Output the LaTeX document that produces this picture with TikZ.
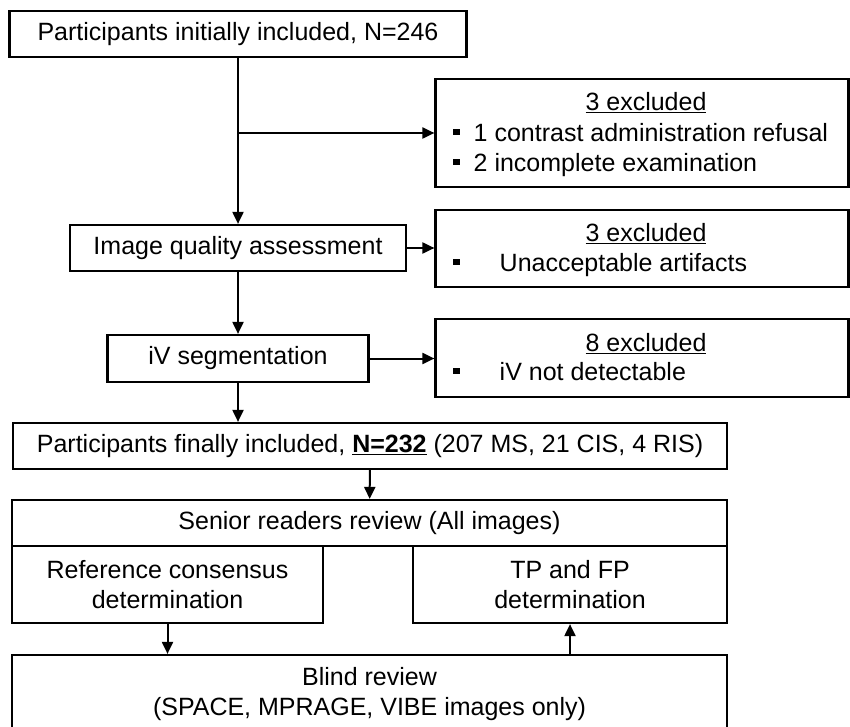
\documentclass[tikz,border=0pt]{standalone}
\usepackage{fontspec}
\setmainfont{Liberation Sans}
\usetikzlibrary{arrows.meta}

\newcommand{\sqbullet}{\raisebox{6.5pt}{\rule{6.5pt}{6.5pt}}}

\tikzset{
  flowbox/.style={draw, line width=2.2pt, align=center, inner sep=0pt},
  flowarrow/.style={line width=2pt, -{Triangle[length=12pt,width=11pt]}},
  headtext/.style={anchor=base, inner sep=0pt},
  itemtext/.style={anchor=base west, inner sep=0pt},
}

\begin{document}
\begin{tikzpicture}[x=1pt, y=-1pt, font=\fontsize{25}{30}\selectfont]
        \useasboundingbox (0,0) rectangle (850,727);

        % Main column boxes
        \node[flowbox, minimum width=457pt, minimum height=46pt] (init) at (238,34) {Participants initially included, N=246};
        \node[flowbox, minimum width=336pt, minimum height=46pt] (iqa) at (238,248) {Image quality assessment};
        \node[flowbox, minimum width=261pt, minimum height=47pt] (seg) at (238,358.5) {iV segmentation};
        \node[flowbox, minimum width=714pt, minimum height=46pt] (final) at (370,446)
            {Participants finally included, \underline{\textbf{N=232}} (207 MS, 21 CIS, 4 RIS)};

        % Exclusion boxes
        \node[flowbox, minimum width=413pt, minimum height=108pt] (excl1) at (642,133) {};
        \node[flowbox, minimum width=413pt, minimum height=77pt] (excl2) at (642,248.5) {};
        \node[flowbox, minimum width=413pt, minimum height=78pt] (excl3) at (642,358) {};

        % Exclusion texts
        \node[headtext] (ex1head) at (646,110.7) {\underline{3 excluded}};
        \node[itemtext] (ex1a) at (453,141.7) {\sqbullet\hspace{14pt}1 contrast administration refusal};
        \node[itemtext] (ex1b) at (453,171.7) {\sqbullet\hspace{14pt}2 incomplete examination};

        \node[headtext] (ex2head) at (646,241.7) {\underline{3 excluded}};
        \node[itemtext] (ex2a) at (453,271.7) {\sqbullet\hspace{40pt}Unacceptable artifacts};

        \node[headtext] (ex3head) at (646,351.7) {\underline{8 excluded}};
        \node[itemtext] (ex3a) at (453,380.7) {\sqbullet\hspace{40pt}iV not detectable};

        % Review boxes
        \node[flowbox, minimum width=715pt, minimum height=46pt] (senior) at (369.5,523) {Senior readers review (All images)};
        \node[flowbox, minimum width=311pt, minimum height=77pt] (refcons) at (167.5,584.5) {Reference consensus\\determination};
        \node[flowbox, minimum width=314pt, minimum height=77pt] (tpfp) at (570,584.5) {TP and FP\\determination};

        \begin{scope}
            \clip (0,0) rectangle (850,727);
            \node[flowbox, minimum width=715pt, minimum height=79pt] (blind) at (369.5,694.5)
                {Blind review\\(SPACE, MPRAGE, VIBE images only)};
        \end{scope}

        % Arrows
        \draw[flowarrow] (init) -- (iqa);
        \draw[flowarrow] (init.south |- excl1.west) -- (excl1.west);
        \draw[flowarrow] (iqa.east) -- (iqa.east -| excl2.west);
        \draw[flowarrow] (iqa) -- (seg);
        \draw[flowarrow] (seg.east) -- (seg.east -| excl3.west);
        \draw[flowarrow] (seg.south) -- (seg.south |- final.north);
        \draw[flowarrow] (final) -- (senior);
        \draw[flowarrow] (refcons.south) -- (refcons.south |- blind.north);
        \draw[flowarrow] (tpfp.south |- blind.north) -- (tpfp.south);

\end{tikzpicture}
\end{document}
